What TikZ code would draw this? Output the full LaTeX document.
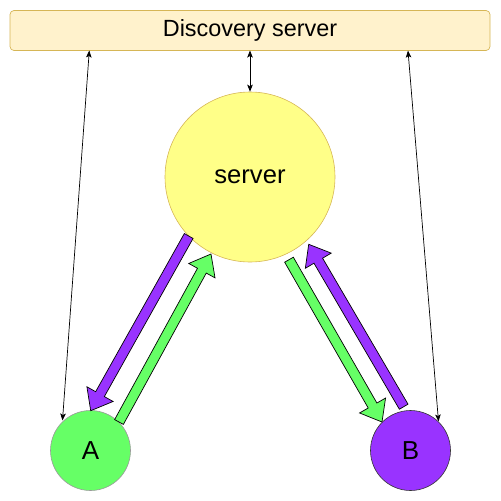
\documentclass[tikz,border=0pt]{standalone}
\usepackage{fontspec}
\setmainfont{Liberation Sans}
\usetikzlibrary{calc,arrows.meta}
\definecolor{discfill}{HTML}{FFF2CC}
\definecolor{discdraw}{HTML}{D6B656}
\definecolor{srvfill}{HTML}{FFFF88}
\definecolor{gfill}{HTML}{66FF66}
\definecolor{pfill}{HTML}{9933FF}
\newcommand\blockarr[3]{%
  \coordinate (hb) at ($(#2)!19pt!(#1)$);
  \filldraw[fill=#3,draw=black,line width=0.7pt,line join=miter]
    ($(#1)!5pt!90:(#2)$) -- ($(hb)!5pt!90:(#2)$) -- ($(hb)!15pt!90:(#2)$) -- (#2)
    -- ($(hb)!15pt!-90:(#2)$) -- ($(hb)!5pt!-90:(#2)$) -- ($(#1)!5pt!-90:(#2)$) -- cycle;}
\begin{document}
\begin{tikzpicture}[x=1pt,y=-1pt,
  thinarr/.style={{Stealth[length=7pt,width=5.5pt,inset=1.5pt]}-{Stealth[length=7pt,width=5.5pt,inset=1.5pt]},line width=0.7pt,black},
  peer/.style={circle,minimum size=80pt,inner sep=0pt,font=\fontsize{26}{30}\selectfont,line width=0.6pt}]
\useasboundingbox (0,0) rectangle (501,501);
\node[draw=discdraw,fill=discfill,rounded corners=4pt,minimum width=480pt,minimum height=40pt,inner sep=0pt,line width=0.7pt,font=\fontsize{23.4}{28}\selectfont] (disc) at (250,30.5) {Discovery server};
\node[circle,draw=discdraw,fill=srvfill,minimum size=170pt,inner sep=0pt,line width=0.6pt,font=\fontsize{25.6}{30}\selectfont] (srv) at (250,177) {server};
\node[peer,draw=gray!80,fill=gfill] (A) at (90.5,450.5) {A};
\node[peer,draw=black!80,fill=pfill] (B) at (410.5,450.5) {B};
% thin connectors
\coordinate (dl) at (89.3,50.5);
\coordinate (al) at (62.5,420.5);
\coordinate (dm) at (250,50.5);
\coordinate (dr) at (408,50.5);
\coordinate (br) at (438.5,421.5);
\draw[thinarr] (dl) -- (al);
\draw[thinarr] (dm) -- (srv.north);
\draw[thinarr] (dr) -- (br);
% block arrows
\coordinate (plS) at (188.7,236);
\coordinate (plE) at (90.7,410.7);
\coordinate (glS) at (119,422);
\coordinate (glE) at (211,254);
\coordinate (grS) at (289,259.7);
\coordinate (grE) at (382,422);
\coordinate (prS) at (403.7,406.7);
\coordinate (prE) at (308.7,244.3);
\blockarr{plS}{plE}{pfill}
\blockarr{glS}{glE}{gfill}
\blockarr{grS}{grE}{gfill}
\blockarr{prS}{prE}{pfill}
\end{tikzpicture}
\end{document}
